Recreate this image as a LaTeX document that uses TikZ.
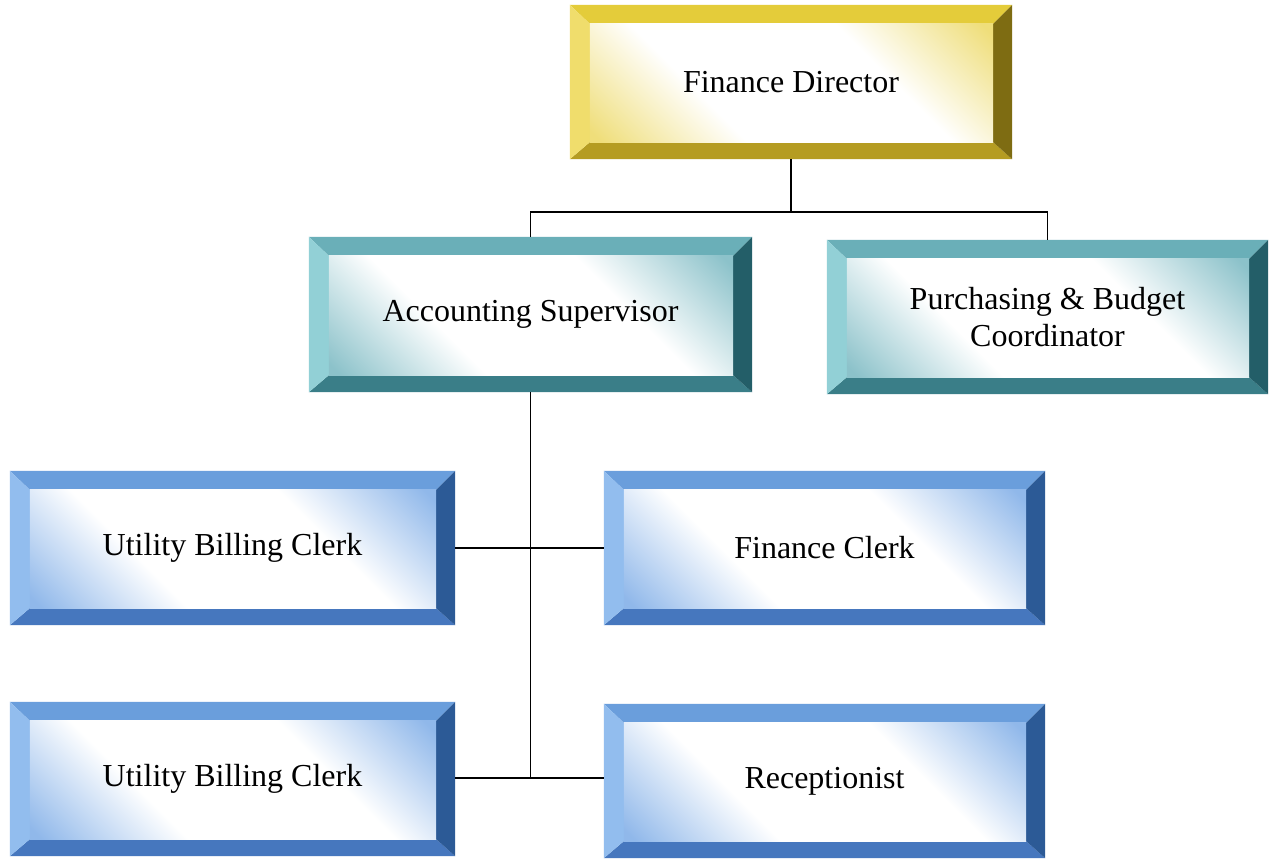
\documentclass[tikz,border=0pt]{standalone}
\usepackage{fontspec}
\setmainfont{Liberation Serif}
\usetikzlibrary{calc,backgrounds}

\definecolor{yelT}{HTML}{E4CC3A}
\definecolor{yelL}{HTML}{F0DD6C}
\definecolor{yelR}{HTML}{7E6C12}
\definecolor{yelB}{HTML}{B59C22}
\definecolor{yelS}{HTML}{EFDE7A}
\definecolor{tealT}{HTML}{6AAFB8}
\definecolor{tealL}{HTML}{92D0D6}
\definecolor{tealR}{HTML}{235E68}
\definecolor{tealB}{HTML}{3A7E88}
\definecolor{tealS}{HTML}{8CC2CA}
\definecolor{bluT}{HTML}{6A9EDC}
\definecolor{bluL}{HTML}{92BDEE}
\definecolor{bluR}{HTML}{2C5A96}
\definecolor{bluB}{HTML}{4677BE}
\definecolor{bluS}{HTML}{90B8EA}

\pgfdeclareverticalshading{yelInner}{100bp}{color(0bp)=(yelS); color(16bp)=(yelS); color(36bp)=(white); color(64bp)=(white); color(84bp)=(yelS); color(100bp)=(yelS)}
\pgfdeclareverticalshading{tealInner}{100bp}{color(0bp)=(tealS); color(16bp)=(tealS); color(36bp)=(white); color(64bp)=(white); color(84bp)=(tealS); color(100bp)=(tealS)}
\pgfdeclareverticalshading{bluInner}{100bp}{color(0bp)=(bluS); color(16bp)=(bluS); color(36bp)=(white); color(64bp)=(white); color(84bp)=(bluS); color(100bp)=(bluS)}

\tikzset{
  boxtext/.style={inner sep=0pt, align=center, text=black,
    font=\fontsize{32}{37}\selectfont},
  link/.style={draw=black, line width=1.8pt},
}

% #1 name, #2 x1, #3 y1, #4 x2, #5 y2, #6 palette, #7 text
\newcommand\bevbox[7]{%
  \node[boxtext, minimum width={(#4-#2)*1pt}, minimum height={(#5-#3)*1pt}]
    (#1) at ({(#2+#4)/2},{(#3+#5)/2}) {#7};
  \begin{scope}[on background layer]
    \coordinate (#1-a) at ($(#1.north west)+(20,19)$);
    \coordinate (#1-b) at ($(#1.south east)+(-19,-17)$);
    \fill[#6T] (#1.north west) -- (#1.north east) -- (#1-b |- #1-a) -- (#1-a) -- cycle;
    \fill[#6B] (#1.south west) -- (#1.south east) -- (#1-b) -- (#1-a |- #1-b) -- cycle;
    \fill[#6L] (#1.north west) -- (#1-a) -- (#1-a |- #1-b) -- (#1.south west) -- cycle;
    \fill[#6R] (#1.north east) -- (#1-b |- #1-a) -- (#1-b) -- (#1.south east) -- cycle;
    \shade[shading=#6Inner, shading angle=-45] (#1-a) rectangle (#1-b);
  \end{scope}
}

\begin{document}
\begin{tikzpicture}[x=1pt, y=-1pt]
  \begin{scope}[on background layer]
    \fill[white] (0,0) rectangle (1273,861);
  \end{scope}
  \useasboundingbox (0,0) rectangle (1273,861);

  \bevbox{fd}{570}{5}{1012}{159}{yel}{Finance Director}
  \bevbox{as}{309}{237}{752}{392}{teal}{Accounting Supervisor}
  \bevbox{pb}{827}{240}{1268}{394}{teal}{Purchasing \& Budget\\Coordinator}
  \bevbox{ub1}{10}{471}{455}{625}{blu}{Utility Billing Clerk}
  \bevbox{fc}{604}{471}{1045}{625}{blu}{Finance Clerk}
  \bevbox{ub2}{10}{702}{455}{856}{blu}{Utility Billing Clerk}
  \bevbox{rc}{604}{704}{1045}{858}{blu}{Receptionist}

  \coordinate (bus) at (790,212);
  \coordinate (row1) at (530,548);
  \coordinate (row2) at (530,778);
  \draw[link] (fd.south) -- (fd.south |- bus);
  \draw[link] (as.north) -- (as.north |- bus) -- (pb.north |- bus) -- (pb.north);
  \draw[link] (as.south) -- (as.south |- row2);
  \draw[link] (ub1.east |- row1) -- (fc.west |- row1);
  \draw[link] (ub2.east |- row2) -- (rc.west |- row2);
\end{tikzpicture}
\end{document}
